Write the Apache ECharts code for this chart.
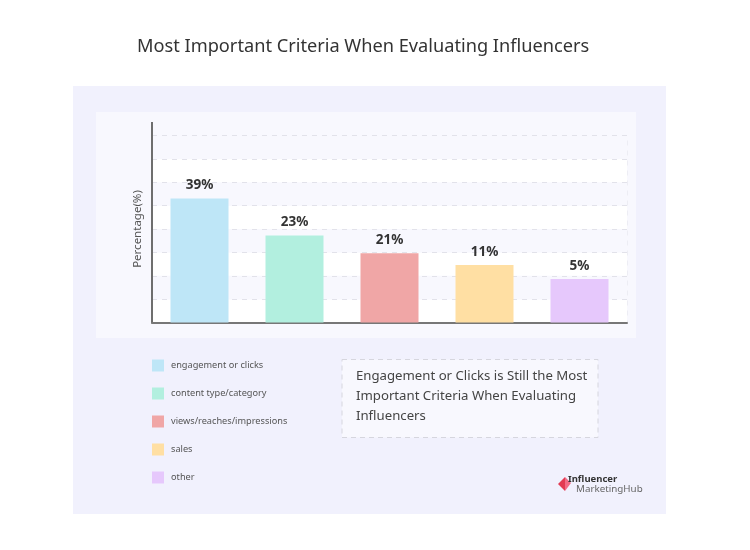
<!DOCTYPE html>
<html>
<head>
<meta charset="utf-8">
<script src="https://cdn.jsdelivr.net/npm/echarts@6/dist/echarts.min.js"></script>
<style>
  html, body { margin: 0; padding: 0; background: #fff; }
  #chart { width: 750px; height: 550px; }
</style>
</head>
<body>
<div id="chart"></div>
<script>
// categories shown in the legend
const categories = ['engagement or clicks', 'content type/category', 'views/reaches/impressions', 'sales', 'other'];
// bar heights as read on the (unlabelled) axis, gridline every 5
const barLevels = [26.5, 18.6, 14.8, 12.3, 9.3];
// the percentages printed above the bars
const shareLabels = [39, 23, 21, 11, 5];
const barColors = ['#bee6f7', '#b2efdf', '#f0a6a6', '#ffdfa3', '#e6c8fc'];

const font = '"Noto Sans", "Open Sans", sans-serif';

// one series per category so the legend gets one entry each
const series = categories.map(function (name, i) {
    const data = categories.map(function (c, j) { return j === i ? barLevels[i] : '-'; });
    return {
        name: name,
        type: 'bar',
        stack: 'all',
        barWidth: 58,
        data: data,
        itemStyle: { color: barColors[i] },
        label: {
            show: true,
            position: 'top',
            distance: 6,
            fontFamily: font,
            fontSize: 13.5,
            fontWeight: 'bold',
            color: '#333',
            formatter: function (p) { return shareLabels[p.dataIndex] + '%'; }
        }
    };
});

const chart = echarts.init(document.getElementById('chart'));
const option = {
    backgroundColor: '#ffffff',
    animation: false,
    title: {
        text: 'Most Important Criteria When Evaluating Influencers',
        left: 132,
        top: 33,
        textStyle: { fontFamily: font, fontSize: 18.2, fontWeight: 'normal', color: '#333' }
    },
    legend: {
        orient: 'vertical',
        left: 152,
        top: 359.5,
        padding: 0,
        itemWidth: 12,
        itemHeight: 12,
        itemGap: 16,
        icon: 'rect',
        data: categories,
        textStyle: { fontFamily: font, fontSize: 9.2, color: '#555', padding: [0, 0, 0, 2] },
        selectedMode: false
    },
    grid: {
        left: 152,
        right: 123,
        top: 135.5,
        bottom: 227.5,
        show: true,
        backgroundColor: 'transparent',
        borderWidth: 1,
        borderColor: '#e2e2ea',
        borderType: [5, 5]
    },
    xAxis: {
        type: 'category',
        data: categories,
        axisLine: { lineStyle: { color: '#777', width: 2 } },
        axisTick: { show: false },
        axisLabel: { show: false },
        splitLine: { show: false }
    },
    yAxis: {
        type: 'value',
        min: 0,
        max: 40,
        interval: 5,
        name: 'Percentage(%)',
        nameLocation: 'middle',
        nameGap: 8,
        nameTextStyle: { fontFamily: font, fontSize: 11.5, color: '#555' },
        axisLine: {
            show: true,
            symbol: ['none', 'rect'],
            symbolSize: [2, 27],
            lineStyle: { color: '#6e6e6e', width: 2 }
        },
        axisTick: { show: false },
        axisLabel: { show: false },
        splitLine: { show: true, lineStyle: { color: '#e2e2ea', type: [5, 5], width: 1 } },
        splitArea: { show: true, areaStyle: { color: ['#ffffff', '#f8f8fe'] } }
    },
    graphic: [
        { type: 'rect', z: -20, shape: { x: 73, y: 86, width: 593, height: 428 }, style: { fill: '#f1f1fd' } },
        { type: 'rect', z: -19, shape: { x: 96, y: 112, width: 540, height: 226 }, style: { fill: '#f8f8fe' } },
        {
            type: 'rect', z: -18,
            shape: { x: 342, y: 359.5, width: 256, height: 78 },
            style: { fill: '#f8f8fe', stroke: '#d6d6de', lineWidth: 1, lineDash: [5, 4] }
        },
        {
            type: 'text', left: 356, top: 366,
            style: {
                text: 'Engagement or Clicks is Still the Most\nImportant Criteria When Evaluating\nInfluencers',
                fontFamily: font, fontSize: 13.2, lineHeight: 20, fill: '#444'
            }
        },
        // logo
        { type: 'polygon', shape: { points: [[558, 484], [565, 477], [565, 491]] }, style: { fill: '#e23a52' } },
        { type: 'polygon', shape: { points: [[565, 477], [571, 483], [565, 491]] }, style: { fill: '#f26b86' } },
        {
            type: 'text', left: 568, top: 474,
            style: { text: 'Influencer', fontFamily: font, fontSize: 9.5, fontWeight: 'bold', fill: '#333' }
        },
        {
            type: 'text', left: 576, top: 484,
            style: { text: 'MarketingHub', fontFamily: font, fontSize: 9.8, fill: '#666' }
        }
    ],
    series: series
};
chart.setOption(option);
</script>
</body>
</html>
